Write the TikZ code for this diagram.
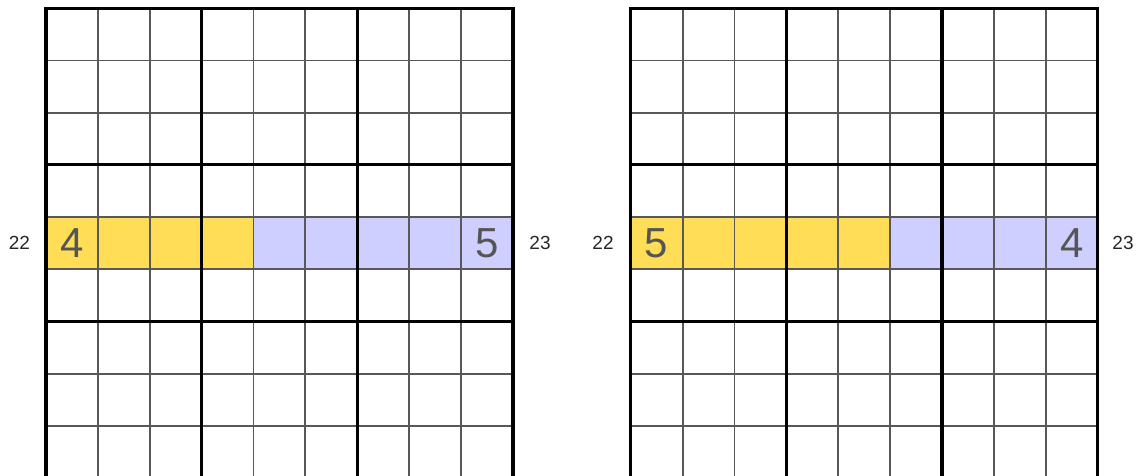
\documentclass[tikz,border=0pt]{standalone}
\usepackage{fontspec}
\setmainfont{Liberation Sans}
\definecolor{yel}{HTML}{FFDD57}
\definecolor{blu}{HTML}{CFCFFF}
\definecolor{thing}{HTML}{585858}
\definecolor{digit}{HTML}{555555}
\begin{document}
\begin{tikzpicture}[x=1pt,y=-1pt,
  thinline/.style={line width=1.9pt,draw=thing},
  thickline/.style={line width=3.2pt,draw=black,line cap=rect},
  bigdigit/.style={text=digit,font=\fontsize{42}{42}\selectfont,inner sep=0pt,anchor=center},
  sidelabel/.style={text=black!85,font=\fontsize{19}{19}\selectfont,inner sep=0pt,anchor=center}]
\useasboundingbox (0,0) rectangle (1138,476);
\clip (0,0) rectangle (1138,476);
\def\cw{51.88}
\def\ch{52.2}
\def\ty{8.3}
% fills
\fill[yel] (46,{\ty+4*\ch}) rectangle ({46+4*\cw},{\ty+5*\ch});
\fill[blu] ({46+4*\cw},{\ty+4*\ch}) rectangle ({46+9*\cw},{\ty+5*\ch});
\fill[yel] (630.7,{\ty+4*\ch}) rectangle ({630.7+5*\cw},{\ty+5*\ch});
\fill[blu] ({630.7+5*\cw},{\ty+4*\ch}) rectangle ({630.7+9*\cw},{\ty+5*\ch});
\foreach \gx in {46,630.7}{
  \foreach \i in {1,2,4,5,7,8}{
    \draw[thinline] ({\gx+\i*\cw},\ty) -- ({\gx+\i*\cw},{\ty+9*\ch});
    \draw[thinline] (\gx,{\ty+\i*\ch}) -- ({\gx+9*\cw},{\ty+\i*\ch});
  }
  \foreach \i in {0,3,6,9}{
    \draw[thickline] ({\gx+\i*\cw},\ty) -- ({\gx+\i*\cw},{\ty+9*\ch});
    \draw[thickline] (\gx,{\ty+\i*\ch}) -- ({\gx+9*\cw},{\ty+\i*\ch});
  }
}
% digits
\node[bigdigit] (la) at ({46+0.5*\cw},{\ty+4.5*\ch}) {4};
\node[bigdigit] (lb) at ({46+8.5*\cw},{\ty+4.5*\ch}) {5};
\node[bigdigit] (ra) at ({630.7+0.5*\cw},{\ty+4.5*\ch}) {5};
\node[bigdigit] (rb) at ({630.7+8.5*\cw},{\ty+4.5*\ch}) {4};
% side labels
\node[sidelabel] (l22) at (19.5,{\ty+4.5*\ch}) {22};
\node[sidelabel] (l23) at (540,{\ty+4.5*\ch}) {23};
\node[sidelabel] (r22) at (603,{\ty+4.5*\ch}) {22};
\node[sidelabel] (r23) at (1123,{\ty+4.5*\ch}) {23};
\end{tikzpicture}
\end{document}
